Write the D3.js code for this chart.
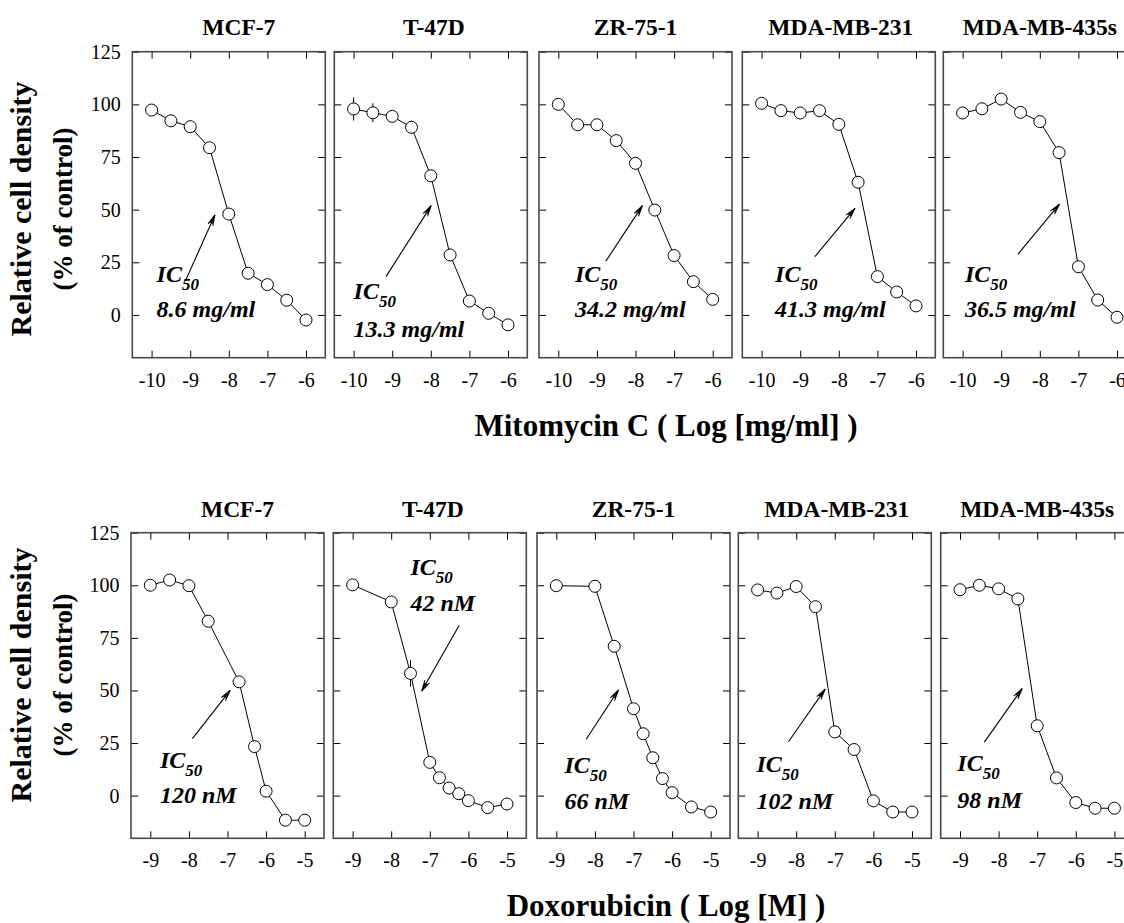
<!DOCTYPE html>
<html>
<head>
<meta charset="utf-8">
<script src="https://cdn.jsdelivr.net/npm/d3@7"></script>
<style>
  html, body { margin: 0; padding: 0; background: #fff; overflow: hidden; }
  svg { display: block; font-family: "Liberation Serif", "Times New Roman", serif; }
</style>
</head>
<body>
<svg id="chart" width="1124" height="923"></svg>
<script>
// ---------------- DATA ----------------
const cellLines = ["MCF-7", "T-47D", "ZR-75-1", "MDA-MB-231", "MDA-MB-435s"];

// Mitomycin C, log [mg/ml]
const mitoTicks = [-10, -9, -8, -7, -6];
const mitoLogConc = [-10, -9.5, -9, -8.5, -8, -7.5, -7, -6.5, -6];
const mitoMCF7   = [97.3, 92.2, 89.4, 79.4, 47.9, 19.8, 14.4, 7.0, -2.4];
const mitoT47D   = [97.8, 96.0, 94.3, 89.1, 66.1, 28.5, 6.6, 0.8, -4.7];
const mitoT47DErr = [5.5, 4.5, 0, 3.2, 0, 0, 0, 0, 0];
const mitoZR751  = [100.0, 90.3, 90.3, 82.8, 72.0, 49.8, 28.2, 15.8, 7.4];
const mitoMDA231 = [100.5, 97.0, 95.9, 97.0, 90.5, 63.0, 18.2, 10.9, 4.3];
const mitoMDA435 = [95.9, 97.9, 102.5, 96.2, 91.8, 77.1, 22.9, 7.1, -1.1];
const mitoIC50 = ["8.6 mg/ml", "13.3 mg/ml", "34.2 mg/ml", "41.3 mg/ml", "36.5 mg/ml"];

// Doxorubicin, log [M]
const doxoTicks = [-9, -8, -7, -6, -5];
const doxoMCF7X   = [-9, -8.5, -8, -7.5, -6.7, -6.3, -6, -5.5, -5];
const doxoMCF7    = [100.0, 102.5, 99.8, 82.9, 54.1, 23.3, 2.1, -11.7, -11.7];
const doxoT47DX   = [-9, -8, -7.5, -7, -6.75, -6.5, -6.25, -6, -5.5, -5];
const doxoT47D    = [100.2, 92.1, 58.1, 15.8, 8.5, 3.6, 0.9, -2.4, -5.7, -4.0];
const doxoT47DErr = [0, 0, 6.3, 0, 0, 0, 0, 0, 0, 0];
const doxoZR751X  = [-9, -8, -7.5, -7, -6.75, -6.5, -6.25, -6, -5.5, -5];
const doxoZR751   = [99.8, 99.5, 71.0, 41.3, 29.4, 18.0, 8.1, 1.4, -5.4, -7.8];
const doxoMDA231X = [-9, -8.5, -8, -7.5, -7, -6.5, -6, -5.5, -5];
const doxoMDA231  = [97.8, 96.3, 99.4, 89.8, 30.3, 21.9, -2.5, -7.8, -7.8];
const doxoMDA435X = [-9, -8.5, -8, -7.5, -7, -6.5, -6, -5.5, -5];
const doxoMDA435  = [97.9, 100.0, 98.3, 93.5, 33.2, 8.4, -3.3, -6.0, -6.0];
const doxoIC50 = ["120 nM", "42 nM", "66 nM", "102 nM", "98 nM"];

const yTicks = [0, 25, 50, 75, 100, 125];

// IC50 annotation anchors (data units): [tailX, tailY, headX, headY, textX, icY, valueY]
const mitoNotes = [
  [-9.12, 16.3, -8.36, 47.5, -9.87, 15.8, -1.1],
  [-9.16, 18.2, -7.99, 51.9, -10.0, 7.6, -10.3],
  [-8.77, 25.5, -7.82, 51.9, -9.57, 15.8, -1.1],
  [-8.62, 27.7, -7.58, 50.6, -9.65, 15.8, -1.1],
  [-8.57, 28.8, -7.49, 52.6, -9.94, 15.8, -1.1]
];
const doxoNotes = [
  [-7.91, 27.1, -6.93, 50.0, -8.75, 13.3, -3.3],
  [-6.24, 80.9, -7.21, 49.7, -7.50, 105.1, 87.7],
  [-8.23, 26.7, -7.39, 50.2, -8.79, 10.9, -6.5],
  [-8.20, 25.6, -7.25, 50.6, -9.03, 11.3, -6.2],
  [-8.37, 25.4, -7.39, 50.9, -9.07, 11.6, -5.9]
];

// ---------------- LAYOUT ----------------
const rows = [
  {
    top: 51.7, bottom: 357.7,
    lefts: [132.3, 334.3, 539, 742.3, 943.3],
    xDomain: [-10.5, -5.5], ticks: mitoTicks,
    series: [
      {x: mitoLogConc, y: mitoMCF7},
      {x: mitoLogConc, y: mitoT47D, err: mitoT47DErr},
      {x: mitoLogConc, y: mitoZR751},
      {x: mitoLogConc, y: mitoMDA231},
      {x: mitoLogConc, y: mitoMDA435}
    ],
    ic50: mitoIC50, notes: mitoNotes,
    titleY: 35, labelCenter: 209,
    axisTitle: "Mitomycin C ( Log [mg/ml] )", axisTitleY: 436
  },
  {
    top: 532.7, bottom: 838.3,
    lefts: [131, 333.3, 537, 738.3, 940.7],
    xDomain: [-9.5, -4.5], ticks: doxoTicks,
    series: [
      {x: doxoMCF7X, y: doxoMCF7},
      {x: doxoT47DX, y: doxoT47D, err: doxoT47DErr},
      {x: doxoZR751X, y: doxoZR751},
      {x: doxoMDA231X, y: doxoMDA231},
      {x: doxoMDA435X, y: doxoMDA435}
    ],
    ic50: doxoIC50, notes: doxoNotes,
    titleY: 517, labelCenter: 675,
    axisTitle: "Doxorubicin ( Log [M] )", axisTitleY: 916
  }
];
const panelW = 193;
const titleOffsets = [10, 3, 0, 2, 0];
const hyphenFmt = d => String(d);

const svg = d3.select("#chart");
const defs = svg.append("defs");
defs.append("marker")
  .attr("id", "arrowhead")
  .attr("viewBox", "-12 -5 14 10")
  .attr("refX", 0).attr("refY", 0)
  .attr("markerWidth", 14).attr("markerHeight", 10)
  .attr("markerUnits", "userSpaceOnUse")
  .attr("orient", "auto")
  .append("path")
  .attr("d", "M-11,-2.6 L0,0 L-11,2.6 M-9,-1.2 L0,0 L-9,1.2")
  .attr("fill", "none").attr("stroke", "#000").attr("stroke-width", 1);

rows.forEach((row) => {
  const y = d3.scaleLinear().domain([-20.3, 125]).range([row.bottom, row.top]);
  row.lefts.forEach((left, i) => {
    const x = d3.scaleLinear().domain(row.xDomain).range([left, left + panelW]);
    const g = svg.append("g");

    // axes (inward ticks)
    const ax = (gen, tr) => {
      const a = g.append("g").attr("transform", tr).call(gen);
      a.select(".domain").remove();
      a.selectAll(".tick line").attr("stroke", "#000").attr("stroke-width", 1);
      a.selectAll("text").attr("font-size", 20).attr("fill", "#000")
        .attr("font-family", "'Liberation Serif', 'Times New Roman', serif");
      return a;
    };
    ax(d3.axisBottom(x).tickValues(row.ticks).tickSize(-7).tickPadding(15).tickFormat(hyphenFmt),
       `translate(0,${row.bottom})`);
    ax(d3.axisTop(x).tickValues(row.ticks).tickSize(-7).tickFormat(""),
       `translate(0,${row.top})`);
    ax(d3.axisLeft(y).tickValues(yTicks).tickSize(-7).tickPadding(11.5).tickFormat(i === 0 ? hyphenFmt : ""),
       `translate(${left},0)`);
    ax(d3.axisRight(y).tickValues(yTicks).tickSize(-7).tickFormat(""),
       `translate(${left + panelW},0)`);

    // frame
    g.append("rect")
      .attr("x", left).attr("y", row.top)
      .attr("width", panelW).attr("height", row.bottom - row.top)
      .attr("fill", "none").attr("stroke", "#4a4a4a").attr("stroke-width", 1.6);

    // title
    g.append("text")
      .attr("x", left + panelW / 2 + titleOffsets[i]).attr("y", row.titleY)
      .attr("text-anchor", "middle").attr("font-size", 23.5).attr("font-weight", "bold")
      .text(cellLines[i]);

    const s = row.series[i];
    const pts = s.x.map((v, k) => ({x: v, y: s.y[k], e: s.err ? s.err[k] : 0}));

    // line
    g.append("path")
      .datum(pts)
      .attr("d", d3.line().x(d => x(d.x)).y(d => y(d.y)))
      .attr("fill", "none").attr("stroke", "#000").attr("stroke-width", 1);

    // error bars
    g.selectAll(null).data(pts.filter(d => d.e > 0)).join("line")
      .attr("x1", d => x(d.x)).attr("x2", d => x(d.x))
      .attr("y1", d => y(d.y - d.e)).attr("y2", d => y(d.y + d.e))
      .attr("stroke", "#000").attr("stroke-width", 1);

    // markers
    g.selectAll(null).data(pts).join("circle")
      .attr("cx", d => x(d.x)).attr("cy", d => y(d.y)).attr("r", 6)
      .attr("fill", "#fff").attr("stroke", "#000").attr("stroke-width", 1);

    // IC50 annotation
    const n = row.notes[i];
    g.append("line")
      .attr("x1", x(n[0])).attr("y1", y(n[1]))
      .attr("x2", x(n[2])).attr("y2", y(n[3]))
      .attr("stroke", "#000").attr("stroke-width", 1.1)
      .attr("marker-end", "url(#arrowhead)");
    const t = g.append("text")
      .attr("x", x(n[4])).attr("y", y(n[5]))
      .attr("font-size", 24).attr("font-weight", "bold").attr("font-style", "italic");
    t.append("tspan").text("IC");
    t.append("tspan").attr("font-size", 17).attr("dy", 8).text("50");
    g.append("text")
      .attr("x", x(n[4])).attr("y", y(n[6]))
      .attr("font-size", 24).attr("font-weight", "bold").attr("font-style", "italic")
      .text(row.ic50[i]);
  });

  // y-axis label
  const lab = svg.append("g");
  lab.append("text")
    .attr("transform", `translate(31,${row.labelCenter}) rotate(-90)`)
    .attr("text-anchor", "middle").attr("font-size", 30).attr("font-weight", "bold")
    .text("Relative cell density");
  lab.append("text")
    .attr("transform", `translate(72,${row.labelCenter}) rotate(-90)`)
    .attr("text-anchor", "middle").attr("font-size", 27).attr("font-weight", "bold")
    .text("(% of control)");

  // x-axis title
  svg.append("text")
    .attr("x", 666).attr("y", row.axisTitleY)
    .attr("text-anchor", "middle").attr("font-size", 31).attr("font-weight", "bold")
    .text(row.axisTitle);
});
</script>
</body>
</html>
